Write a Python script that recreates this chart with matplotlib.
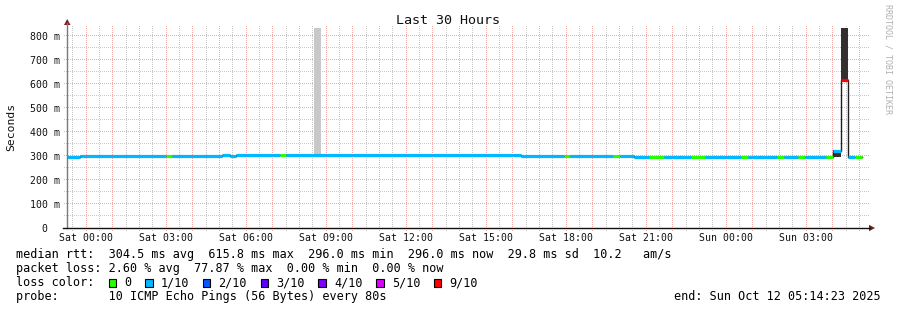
import matplotlib

matplotlib.use("Agg")

import matplotlib.pyplot as plt
import numpy as np
from matplotlib.colors import to_rgba
from matplotlib.patches import Polygon, Rectangle

# ── Data (hours after Sat 00:00, median rtt in ms) ─────────────
seg_edges = [-0.72, -0.25, 3.0, 3.225, 5.1, 5.375, 5.625, 7.25, 7.5, 16.0, 16.3,
             17.9, 18.15, 19.77, 20.03, 20.28, 20.55, 21.12, 21.65, 22.69, 23.21,
             24.56, 24.83, 25.91, 26.17, 26.7, 26.96, 27.75, 28.0, 28.29, 28.55,
             28.84, 29.1]
median_ms = [296, 301, 301, 301, 305, 301, 303, 303, 303, 306, 302, 302, 302, 302,
             302, 299, 296, 296, 296, 296, 296, 296, 296, 296, 296, 296, 296, 296,
             322, 615.8, 296, 296]
loss_class = [1, 1, 0, 1, 1, 1, 1, 0, 1, 1, 1, 0, 1, 0, 1, 1, 1, 0, 1, 0, 1, 0,
              1, 0, 1, 0, 1, 0, 1, 6, 1, 0]

smoke_start = [8.55, 28.0, 28.29]
smoke_end = [8.81, 28.29, 28.55]
smoke_lo = [303, 296, 617]
smoke_hi = [835, 325, 835]

loss_labels = ["0", "1/10", "2/10", "3/10", "4/10", "5/10", "9/10"]
loss_colors = ["#26ff00", "#00b8ff", "#0059ff", "#5e00ff", "#7e00ff", "#dd00ff", "#ff0000"]

x_tick_hours = [0, 3, 6, 9, 12, 15, 18, 21, 24, 27]
x_tick_labels = ["Sat 00:00", "Sat 03:00", "Sat 06:00", "Sat 09:00", "Sat 12:00",
                 "Sat 15:00", "Sat 18:00", "Sat 21:00", "Sun 00:00", "Sun 03:00"]
y_ticks_ms = [0, 100, 200, 300, 400, 500, 600, 700, 800]

stats_rtt = "median rtt:  304.5 ms avg  615.8 ms max  296.0 ms min  296.0 ms now  29.8 ms sd  10.2   am/s"
stats_loss = "packet loss: 2.60 % avg  77.87 % max  0.00 % min  0.00 % now"
probe_text = "probe:       10 ICMP Echo Pings (56 Bytes) every 80s"
end_text = "end: Sun Oct 12 05:14:23 2025"

# ── Layout (pixels) ────────────────────────────────────────────
W, H = 897, 310
MONO = "DejaVu Sans Mono"
MAJOR = "#f4acac"
MINOR = "#c8c8c8"
ARROW = "#7a1e1e"


def fx(x):
    return x / W


def fy(y):
    return 1 - y / H


fig = plt.figure(figsize=(W / 100, H / 100), dpi=100)
fig.patch.set_facecolor("white")
ax = fig.add_axes([fx(67), fy(228), 800 / W, 202 / H])
ax.set_xlim(-0.72, 29.28)
ax.set_ylim(0, 202 / 0.24)
ax.patch.set_alpha(0)
for sp in ax.spines.values():
    sp.set_visible(False)

# ── Dotted grid (1 px on / 1 px off), rendered as a pixel layer ─
grid = np.zeros((H, W, 4))
maj, mnr = np.array(to_rgba(MAJOR)), np.array(to_rgba(MINOR))
rows = np.arange(26, 232)
cols = np.arange(63, 869)
for i in range(60):
    h = -0.5 + i * 0.5
    if h > 29.1:
        break
    c = int(ax.transData.transform((h, 0))[0])
    colr = maj if float(h).is_integer() else mnr
    r = rows[rows % 2 == 0]
    grid[r, c] = colr
for v in range(50, 801, 50):
    r = H - 1 - int(ax.transData.transform((0, v))[1])
    colr = maj if v % 100 == 0 else mnr
    cc = cols[cols % 2 == 0]
    grid[r, cc] = colr
fig.figimage(grid, xo=0, yo=0, origin="upper", zorder=-1)

# ── Smoke ─────────────────────────────────────────────────────
smoke_shade = ["#c8c8c8", "#343030", "#343030"]
ax.bar(smoke_start, [hi - lo for hi, lo in zip(smoke_hi, smoke_lo)],
       width=[e - s for s, e in zip(smoke_start, smoke_end)], bottom=smoke_lo,
       align="edge", color=smoke_shade, linewidth=0, zorder=2)

# ── Median line ───────────────────────────────────────────────
ax.plot(seg_edges, median_ms + [median_ms[-1]], drawstyle="steps-post",
        color="#202020", lw=1.0, zorder=3)
ax.hlines(median_ms, seg_edges[:-1], seg_edges[1:],
          colors=[loss_colors[c] for c in loss_class], lw=2.3, zorder=4)

# ── Axis lines & arrows ───────────────────────────────────────
fig.add_artist(plt.Line2D([fx(67), fx(67)], [fy(228), fy(23)], color="#7a7a7a", lw=1.0))
fig.add_artist(plt.Line2D([fx(63), fx(870)], [fy(228), fy(228)], color="#111111", lw=1.0))
fig.add_artist(Polygon([(fx(64), fy(25)), (fx(70.5), fy(25)), (fx(67.2), fy(19))],
                       closed=True, color=ARROW, lw=0))
fig.add_artist(Polygon([(fx(869), fy(224.8)), (fx(869), fy(231.2)), (fx(875), fy(228))],
                       closed=True, color=ARROW, lw=0))

# ── Ticks ─────────────────────────────────────────────────────
ax.set_xticks(x_tick_hours)
ax.set_xticklabels(x_tick_labels, fontfamily=MONO, fontsize=7.1, color="#111111")
ax.set_yticks(y_ticks_ms)
ax.set_yticklabels([f"{v} m" if v else "0  " for v in y_ticks_ms],
                   fontfamily=MONO, fontsize=7.1, color="#111111")
ax.tick_params(axis="x", length=0, pad=3.6)
ax.tick_params(axis="y", length=0, pad=4.8)

# ── Titles ────────────────────────────────────────────────────
fig.text(fx(448), fy(24.5), "Last 30 Hours", family=MONO, fontsize=9.6,
         ha="center", va="baseline", color="#111111")
fig.text(fx(11), fy(127), "Seconds", family=MONO, fontsize=8.2, rotation=90,
         ha="center", va="center", color="#111111")
fig.text(fx(887.5), fy(4), "RRDTOOL / TOBI OETIKER", family=MONO, fontsize=6,
         rotation=270, ha="center", va="top", color="#b0b0b0")

# ── Legend ────────────────────────────────────────────────────
LFS = 8.45
CW = 7.07
fig.text(fx(16), fy(258), stats_rtt, family=MONO, fontsize=LFS, va="baseline")
fig.text(fx(16), fy(272), stats_loss, family=MONO, fontsize=LFS, va="baseline")
fig.text(fx(16), fy(286), "loss color:", family=MONO, fontsize=LFS, va="baseline")
bx = 108.5
for lab, col in zip(loss_labels, loss_colors):
    fig.add_artist(Rectangle((fx(bx), fy(287)), 7.5 / W, 8 / H, facecolor=col,
                             edgecolor="black", lw=0.8))
    tx = bx + 15.5
    fig.text(fx(tx), fy(286), lab, family=MONO, fontsize=LFS, va="baseline")
    bx = tx + len(lab) * CW + 14
fig.text(fx(16), fy(300), probe_text, family=MONO, fontsize=LFS, va="baseline")
fig.text(fx(881), fy(300), end_text, family=MONO, fontsize=LFS, va="baseline", ha="right")

fig.savefig("out.png", dpi=100)
